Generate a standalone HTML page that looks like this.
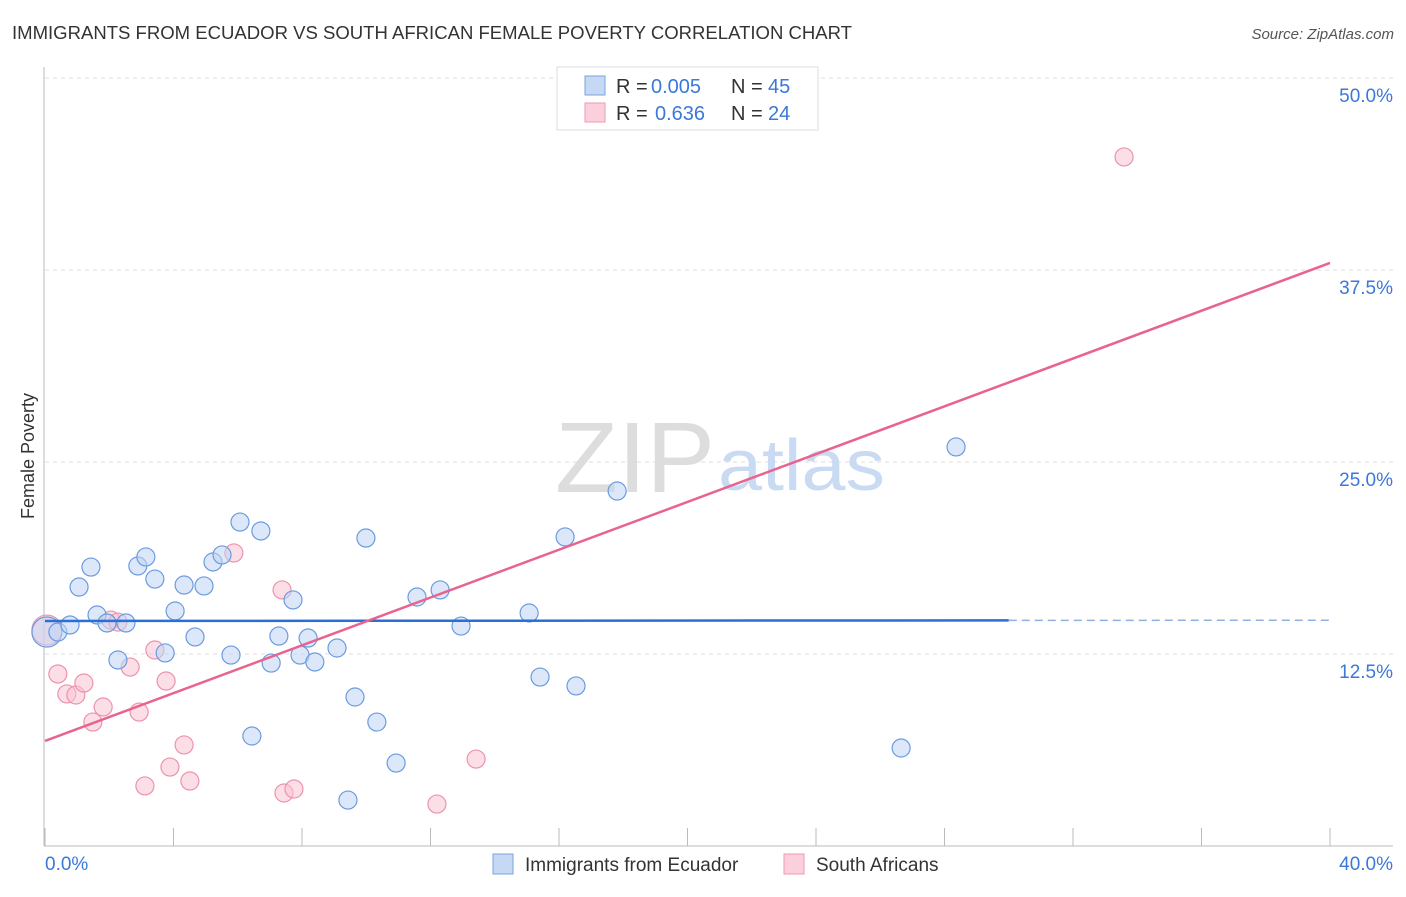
<!DOCTYPE html>
<html><head><meta charset="utf-8"><style>
body{margin:0;background:#fff;font-family:"Liberation Sans",sans-serif;}
svg text{font-family:"Liberation Sans",sans-serif;}
</style></head><body>
<svg width="1406" height="892" viewBox="0 0 1406 892">
<text x="12" y="39" font-size="18" fill="#333" textLength="840" lengthAdjust="spacingAndGlyphs">IMMIGRANTS FROM ECUADOR VS SOUTH AFRICAN FEMALE POVERTY CORRELATION CHART</text>
<text x="1394" y="39" font-size="15" fill="#555" font-style="italic" text-anchor="end">Source: ZipAtlas.com</text>
<text x="34" y="456" font-size="18" fill="#333" transform="rotate(-90 34 456)" text-anchor="middle">Female Poverty</text>
<g id="grid"></g>
<text x="715" y="492" font-size="100" fill="#ddd" text-anchor="end" font-family="Liberation Serif" textLength="160" lengthAdjust="spacingAndGlyphs">ZIP</text>
<text x="718" y="490" font-size="72" fill="#c9daf3" textLength="167" lengthAdjust="spacingAndGlyphs">atlas</text>
<g id="pts"></g>
<g id="lines"></g>
<g>
<rect x="557" y="67" width="261" height="63" fill="#fff" stroke="#ddd"/>
<rect x="585" y="76" width="20" height="19" fill="#c5d9f5" stroke="#7aa3e0"/>
<rect x="585" y="103" width="20" height="19" fill="#fbd0dc" stroke="#ee9ab2"/>
<text x="616" y="93" font-size="20" fill="#333">R =</text>
<text x="651" y="93" font-size="20" fill="#3b78d8">0.005</text>
<text x="731" y="93" font-size="20" fill="#333">N =</text>
<text x="768" y="93" font-size="20" fill="#3b78d8">45</text>
<text x="616" y="120" font-size="20" fill="#333">R =</text>
<text x="655" y="120" font-size="20" fill="#3b78d8">0.636</text>
<text x="731" y="120" font-size="20" fill="#333">N =</text>
<text x="768" y="120" font-size="20" fill="#3b78d8">24</text>
</g>
<g>
<rect x="493" y="854" width="20" height="20" fill="#c5d9f5" stroke="#7aa3e0"/>
<text x="525" y="871" font-size="19" fill="#333">Immigrants from Ecuador</text>
<rect x="784" y="854" width="20" height="20" fill="#fbd0dc" stroke="#ee9ab2"/>
<text x="816" y="871" font-size="19" fill="#333">South Africans</text>
</g>
</svg>
<script>
const blueX=[0.06,0.40,0.78,1.06,1.43,1.62,1.93,2.27,2.52,2.89,3.14,3.42,3.74,4.05,4.33,4.67,4.95,5.23,5.51,5.79,6.07,6.44,6.72,7.04,7.28,7.72,7.94,8.19,8.40,9.09,9.65,9.99,10.33,10.93,9.43,11.58,12.30,12.95,15.07,15.41,16.19,16.53,17.81,26.65,28.36];
const blueY=[13.93,13.93,14.39,16.86,18.16,15.04,14.52,12.11,14.52,18.23,18.82,17.38,12.57,15.30,16.99,13.61,16.93,18.49,18.95,12.43,21.09,7.16,20.51,11.91,13.67,16.02,12.43,13.54,11.98,12.89,9.70,20.05,8.07,5.40,2.99,16.21,16.67,14.32,15.17,11.00,20.12,10.42,23.11,6.38,25.98];
const pinkX=[0.06,0.40,0.68,0.96,1.21,1.49,1.81,2.05,2.27,2.65,2.93,3.11,3.42,3.77,3.89,4.33,4.51,5.88,7.38,7.44,7.75,12.20,13.42,33.59];
const pinkY=[14.06,11.20,9.90,9.83,10.61,8.07,9.05,14.71,14.58,11.65,8.72,3.91,12.76,10.74,5.14,6.58,4.23,19.08,16.67,3.45,3.71,2.73,5.66,44.86];
const yTicks=[12.5,25,37.5,50];
const yTickLabels=["12.5%","25.0%","37.5%","50.0%"];
const xTicks=[0,4,8,12,16,20,24,28,32,36,40];
const blueFit=[14.65,14.7];
const pinkFit=[6.84,37.96];
const NS='http://www.w3.org/2000/svg';
const sx=v=>45+v*32.125, sy=v=>846-v*15.36;
function mk(tag,a,p){const e=document.createElementNS(NS,tag);for(const k in a)e.setAttribute(k,a[k]);p.appendChild(e);return e;}
const grid=document.getElementById('grid'),pts=document.getElementById('pts'),lines=document.getElementById('lines');
yTicks.forEach((t,i)=>{
 const l=mk('line',{x1:45,x2:1393,y1:sy(t),y2:sy(t),stroke:'#ddd','stroke-dasharray':'4,4'},grid);
 
 
 const tx=mk('text',{x:1393,y:sy(t)+24,'font-size':19,fill:'#3b78d8','text-anchor':'end'},grid);
 tx.textContent=yTickLabels[i];
 
 
});
const ax=mk('line',{x1:44,x2:44,y1:67,y2:846,stroke:'#bbb'},grid);


const bx=mk('line',{x1:44,x2:1393,y1:846,y2:846,stroke:'#bbb'},grid);


xTicks.forEach(t=>{const l=mk('line',{x1:sx(t),x2:sx(t),y1:828,y2:846,stroke:'#bbb'},grid);
 
 });
const xl0=mk('text',{x:45,y:870,'font-size':19,fill:'#3b78d8'},grid);xl0.textContent='0.0%';


const xl1=mk('text',{x:1393,y:870,'font-size':19,fill:'#3b78d8','text-anchor':'end'},grid);xl1.textContent='40.0%';


function dots(X,Y,fill,stroke,name){X.forEach((x,i)=>{const c=mk('circle',{cx:sx(x),cy:sy(Y[i]),r:i===0?15:9,fill:fill,'fill-opacity':0.55,stroke:stroke,'stroke-width':1.2},pts);
 
 });}
dots(pinkX,pinkY,'#f9c3d2','#ec93ad','south-africans-point');
dots(blueX,blueY,'#c0d6f4','#6b9be0','ecuador-point');
const bl=mk('line',{x1:sx(0),x2:sx(30),y1:sy(blueFit[0]),y2:sy(blueFit[0]+(blueFit[1]-blueFit[0])*0.75),stroke:'#2a6fd6','stroke-width':2.5},lines);


const bd=mk('line',{x1:sx(30),x2:sx(40),y1:sy(blueFit[0]+(blueFit[1]-blueFit[0])*0.75),y2:sy(blueFit[1]),stroke:'#8fb0e3','stroke-width':1.5,'stroke-dasharray':'8,5'},lines);


const pl=mk('line',{x1:sx(0),x2:sx(40),y1:sy(pinkFit[0]),y2:sy(pinkFit[1]),stroke:'#e8638e','stroke-width':2.5},lines);


</script>
</body></html>
